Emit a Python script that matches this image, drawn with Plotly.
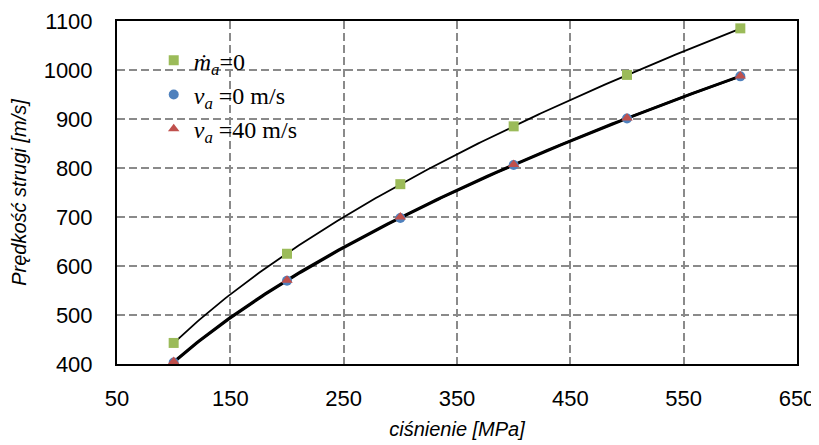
import numpy as np
import plotly.graph_objects as go

pressure = [100, 200, 300, 400, 500, 600]
v_mdot0 = [443, 625, 767, 885, 990, 1085]
v_va0 = [403, 570, 698, 806, 901, 987]
v_va40 = [405, 571, 700, 807, 902, 988]

x_ticks = [50, 150, 250, 350, 450, 550, 650]
y_ticks = [400, 500, 600, 700, 800, 900, 1000, 1100]

names = ["<i>ṁ</i><sub><i>a</i></sub>=0",
         "<i>v</i><sub><i>a</i></sub> =0 m/s",
         "<i>v</i><sub><i>a</i></sub> =40 m/s"]


def power_fit(x, y):
    b, loga = np.polyfit(np.log(x), np.log(y), 1)
    xs = np.linspace(min(x), max(x), 200)
    return xs, np.exp(loga) * xs ** b


fig = go.Figure()

for ys, w in [(v_mdot0, 1.8), (v_va0, 2.6), (v_va40, 2.6)]:
    xs, yf = power_fit(pressure, ys)
    fig.add_trace(go.Scatter(x=xs, y=yf, mode="lines", line=dict(color="black", width=w),
                             showlegend=False, hoverinfo="skip"))

fig.add_trace(go.Scatter(x=pressure, y=v_mdot0, mode="markers", name=names[0],
                         marker=dict(symbol="square", color="#9BBB59", size=10)))
fig.add_trace(go.Scatter(x=pressure, y=v_va0, mode="markers", name=names[1],
                         marker=dict(symbol="circle", color="#4F81BD", size=10)))
fig.add_trace(go.Scatter(x=pressure, y=v_va40, mode="markers", name=names[2],
                         marker=dict(symbol="triangle-up", color="#C0504D", size=10)))

grid = dict(showgrid=True, gridcolor="#8a8a8a", griddash="8px,4px", gridwidth=1.5,
            showline=True, linecolor="black", linewidth=2, mirror=True,
            zeroline=False, ticks="", tickfont=dict(size=22),
            automargin=False)

fig.update_layout(
    width=811, height=437,
    margin=dict(l=109, r=22, t=13, b=81),
    paper_bgcolor="white", plot_bgcolor="white",
    font=dict(family="Liberation Sans, Arial, sans-serif", color="black"),
    legend=dict(x=0.054, y=0.95, xanchor="left", yanchor="top",
                font=dict(family="Liberation Serif, DejaVu Serif, serif", size=24, color="black"),
                bgcolor="rgba(0,0,0,0)", itemwidth=30, tracegroupgap=0),
    xaxis=dict(range=[50, 650], tickvals=x_ticks, ticktext=[str(t) for t in x_ticks],
               ticklabelstandoff=14,
               title=dict(text="<i>ciśnienie [MPa]</i>", font=dict(size=20), standoff=12),
               **grid),
    yaxis=dict(range=[400, 1100], tickvals=y_ticks, ticktext=[str(t) for t in y_ticks],
               ticklabelstandoff=18,
               title=dict(text="<i>Prędkość strugi [m/s]</i>", font=dict(size=20), standoff=12),
               **grid),
)

fig.write_html("out.html")
